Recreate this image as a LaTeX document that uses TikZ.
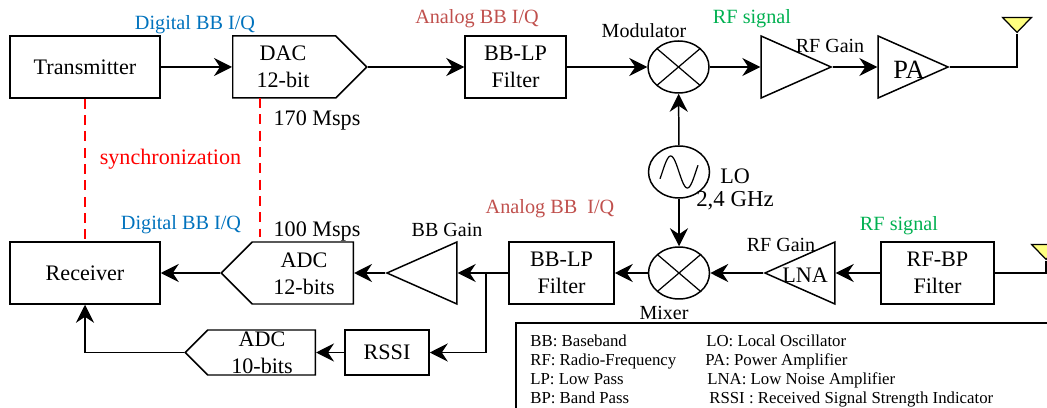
\documentclass[tikz,border=0pt]{standalone}
\usepackage{fontspec}
\setmainfont{Liberation Serif}
\usetikzlibrary{positioning, arrows.meta, shapes.geometric, shapes.symbols}
\definecolor{digitalblue}{RGB}{0, 114, 189}
\definecolor{analogred}{RGB}{192, 80, 77}
\definecolor{rfgreen}{RGB}{0, 176, 80}
\definecolor{antyellow}{RGB}{255, 255, 128}
\tikzset{
  block/.style={
    draw=black,
    line width=0.85pt,
    fill=white,
    minimum height=1.24cm,
    inner sep=0pt,
    align=center,
    font=\fontsize{12.6}{15.3}\selectfont
  },
  adcshape/.style={
    block,
    shape=signal,
    signal pointer angle=90,
    signal from=nowhere
  },
  ampshape/.style={
    draw=black,
    line width=0.85pt,
    fill=white,
    shape=isosceles triangle,
    isosceles triangle stretches,
    minimum width=1.24cm,
    minimum height=1.40cm,
    inner sep=0pt
  },
  mixshape/.style={
    draw=black,
    line width=0.85pt,
    shape=ellipse,
    minimum width=1.22cm,
    minimum height=1.04cm,
    inner sep=0pt
  },
  mixcross/.style={
    mixshape,
    path picture={
      \draw[line width=0.7pt] (path picture bounding box.north west) -- (path picture bounding box.south east);
      \draw[line width=0.7pt] (path picture bounding box.south west) -- (path picture bounding box.north east);
    }
  },
  antenna/.style={
    draw=black,
    line width=0.7pt,
    fill=antyellow,
    shape=isosceles triangle,
    isosceles triangle stretches,
    shape border rotate=-90,
    minimum width=0.58cm,
    minimum height=0.30cm,
    inner sep=0pt
  },
  flow/.style={
    -{Stealth[length=3.6mm, width=3.6mm, inset=1.2mm]},
    line width=0.85pt
  },
  syncline/.style={
    draw=red,
    line width=0.75pt,
    dash pattern=on 5.6pt off 3.7pt
  },
  txt/.style={font=\fontsize{12.6}{15.3}\selectfont, align=center, inner sep=0pt},
  small/.style={font=\fontsize{11.4}{14}\selectfont, inner sep=0pt},
  tag/.style={font=\fontsize{11.5}{14}\selectfont, inner sep=0pt},
  legend/.style={font=\fontsize{9.55}{11}\selectfont, anchor=base west, inner sep=0pt}
}

\begin{document}
\begin{tikzpicture}
  \useasboundingbox (0,0) rectangle (20.94,8.14);
  \clip (0,0) rectangle (20.94,8.14);

  % Transmit chain
  \node[block, minimum width=3.00cm] (tx) at (1.70,6.80) {Transmitter};
  \node[adcshape, signal to=east, minimum width=2.68cm, anchor=west] (dac) at (4.64,6.80) {};
  \node[txt] (dactext) at (5.66,6.80) {DAC\\12-bit};
  \node[block, minimum width=2.02cm] (txfilter) at (10.31,6.80) {BB-LP\\Filter};
  \node[mixcross] (modulator) at (13.57,6.80) {};
  \node[ampshape, anchor=apex] (rfamp) at (16.66,6.80) {};
  \node[ampshape, anchor=apex] (pa) at (19.00,6.80) {};
  \node[antenna, anchor=apex] (txant) at (20.34,7.46) {};

  % Oscillator
  \node[mixshape] (lo) at (13.58,4.70) {};
  \draw[line width=0.7pt, shift={(lo.center)}] plot[domain=-205:205, samples=40, smooth] ({\x/205*0.38},{-0.32*sin(\x)});

  % Receive chain
  \node[block, minimum width=3.00cm] (rx) at (1.70,2.68) {Receiver};
  \node[adcshape, signal to=west, minimum width=2.64cm, anchor=east] (adchigh) at (7.08,2.68) {};
  \node[txt] (adchightext) at (6.08,2.66) {ADC\\12-bits};
  \node[ampshape, shape border rotate=180, anchor=apex] (bbamp) at (7.70,2.68) {};
  \node[block, minimum width=2.10cm] (rxfilter) at (11.23,2.68) {BB-LP\\Filter};
  \node[mixcross] (mixer) at (13.58,2.68) {};
  \node[ampshape, shape border rotate=180, anchor=apex] (lna) at (15.26,2.68) {};
  \node[block, minimum width=2.26cm] (rfbp) at (18.75,2.68) {RF-BP\\Filter};
  \node[antenna, anchor=apex] (rxant) at (20.92,2.92) {};
  \node[block, minimum width=1.68cm, minimum height=0.90cm] (rssi) at (7.74,1.09) {RSSI};
  \node[adcshape, signal to=west, minimum width=2.60cm, minimum height=0.90cm, anchor=east] (adclow) at (6.32,1.09) {};
  \node[txt] (adclowtext) at (5.24,1.08) {ADC\\10-bits};
  \coordinate (tap) at (9.72,2.68);
  \coordinate (dacfoot) at (5.20,6.18);
  \coordinate (adchead) at (5.20,3.40);

  % Connectors
  \draw[flow] (tx) -- (dac.west);
  \draw[flow] (dac.east) -- (txfilter);
  \draw[flow] (txfilter) -- (modulator);
  \draw[flow] (modulator) -- (rfamp.west);
  \draw[flow] (rfamp.apex) -- (pa.west);
  \draw[line width=0.85pt] (pa.apex) -| (txant.apex);
  \draw[flow] (lo) -- (modulator);
  \draw[flow] (lo) -- (mixer);
  \draw[line width=0.85pt] (rfbp) -| (rxant.apex);
  \draw[flow] (rfbp) -- (lna.east);
  \draw[flow] (lna.apex) -- (mixer);
  \draw[flow] (mixer) -- (rxfilter);
  \draw[flow] (rxfilter) -- (bbamp.east);
  \draw[flow] (bbamp.apex) -- (adchigh.east);
  \draw[flow] (adchigh.west) -- (rx);
  \draw[flow] (tap) |- (rssi);
  \draw[flow] (rssi) -- (adclow.east);
  \draw[flow] (adclow.west) -| (rx);
  \draw[syncline] (tx.south) -- (rx.north);
  \draw[syncline] (dacfoot) -- (adchead);

  % Labels
  \node[tag, digitalblue] (digitaltop) at (3.90,7.64) {Digital BB I/Q};
  \node[tag, analogred] (analogtop) at (9.54,7.76) {Analog BB I/Q};
  \node[small] (modtext) at (12.88,7.52) {Modulator};
  \node[tag, rfgreen] (rftop) at (15.04,7.76) {RF signal};
  \node[small] (rfgaintop) at (16.60,7.22) {RF Gain};
  \node[font=\fontsize{15}{17}\selectfont, inner sep=0pt] (patext) at (18.18,6.74) {PA};
  \node[txt] (txrate) at (6.34,5.74) {170 Msps};
  \node[txt, red] (synctext) at (3.41,4.96) {synchronization};
  \node[tag, digitalblue] (digitalbot) at (3.62,3.64) {Digital BB I/Q};
  \node[txt] (rxrate) at (6.34,3.52) {100 Msps};
  \node[small] (bbgain) at (8.94,3.54) {BB Gain};
  \node[tag, analogred] (analogbot) at (11.00,3.96) {Analog BB\ \ I/Q};
  \node[small] (rfgainbot) at (15.62,3.24) {RF Gain};
  \node[tag, rfgreen] (rfbot) at (17.98,3.62) {RF signal};
  \node[txt] (lnatext) at (16.10,2.64) {LNA};
  \node[txt] (lotext) at (14.70,4.62) {LO};
  \node[txt, font=\fontsize{13}{15}\selectfont] (lofreq) at (14.70,4.12) {2,4 GHz};
  \node[small] (mixtext) at (13.28,1.88) {Mixer};

  % Legend
  \draw[line width=0.85pt] (10.32,-0.5) rectangle (21.5,1.68);
  \node[legend] (bbkey) at (10.60,1.22) {BB: Baseband};
  \node[legend] (rfkey) at (10.60,0.84) {RF: Radio-Frequency};
  \node[legend] (lpkey) at (10.60,0.46) {LP: Low Pass};
  \node[legend] (bpkey) at (10.60,0.08) {BP: Band Pass};
  \node[legend] (lokey) at (14.12,1.22) {LO: Local Oscillator};
  \node[legend] (pakey) at (14.10,0.84) {PA: Power Amplifier};
  \node[legend] (lnakey) at (14.14,0.46) {LNA: Low Noise Amplifier};
  \node[legend] (rssikey) at (14.18,0.08) {RSSI : Received Signal Strength Indicator};
\end{tikzpicture}
\end{document}
